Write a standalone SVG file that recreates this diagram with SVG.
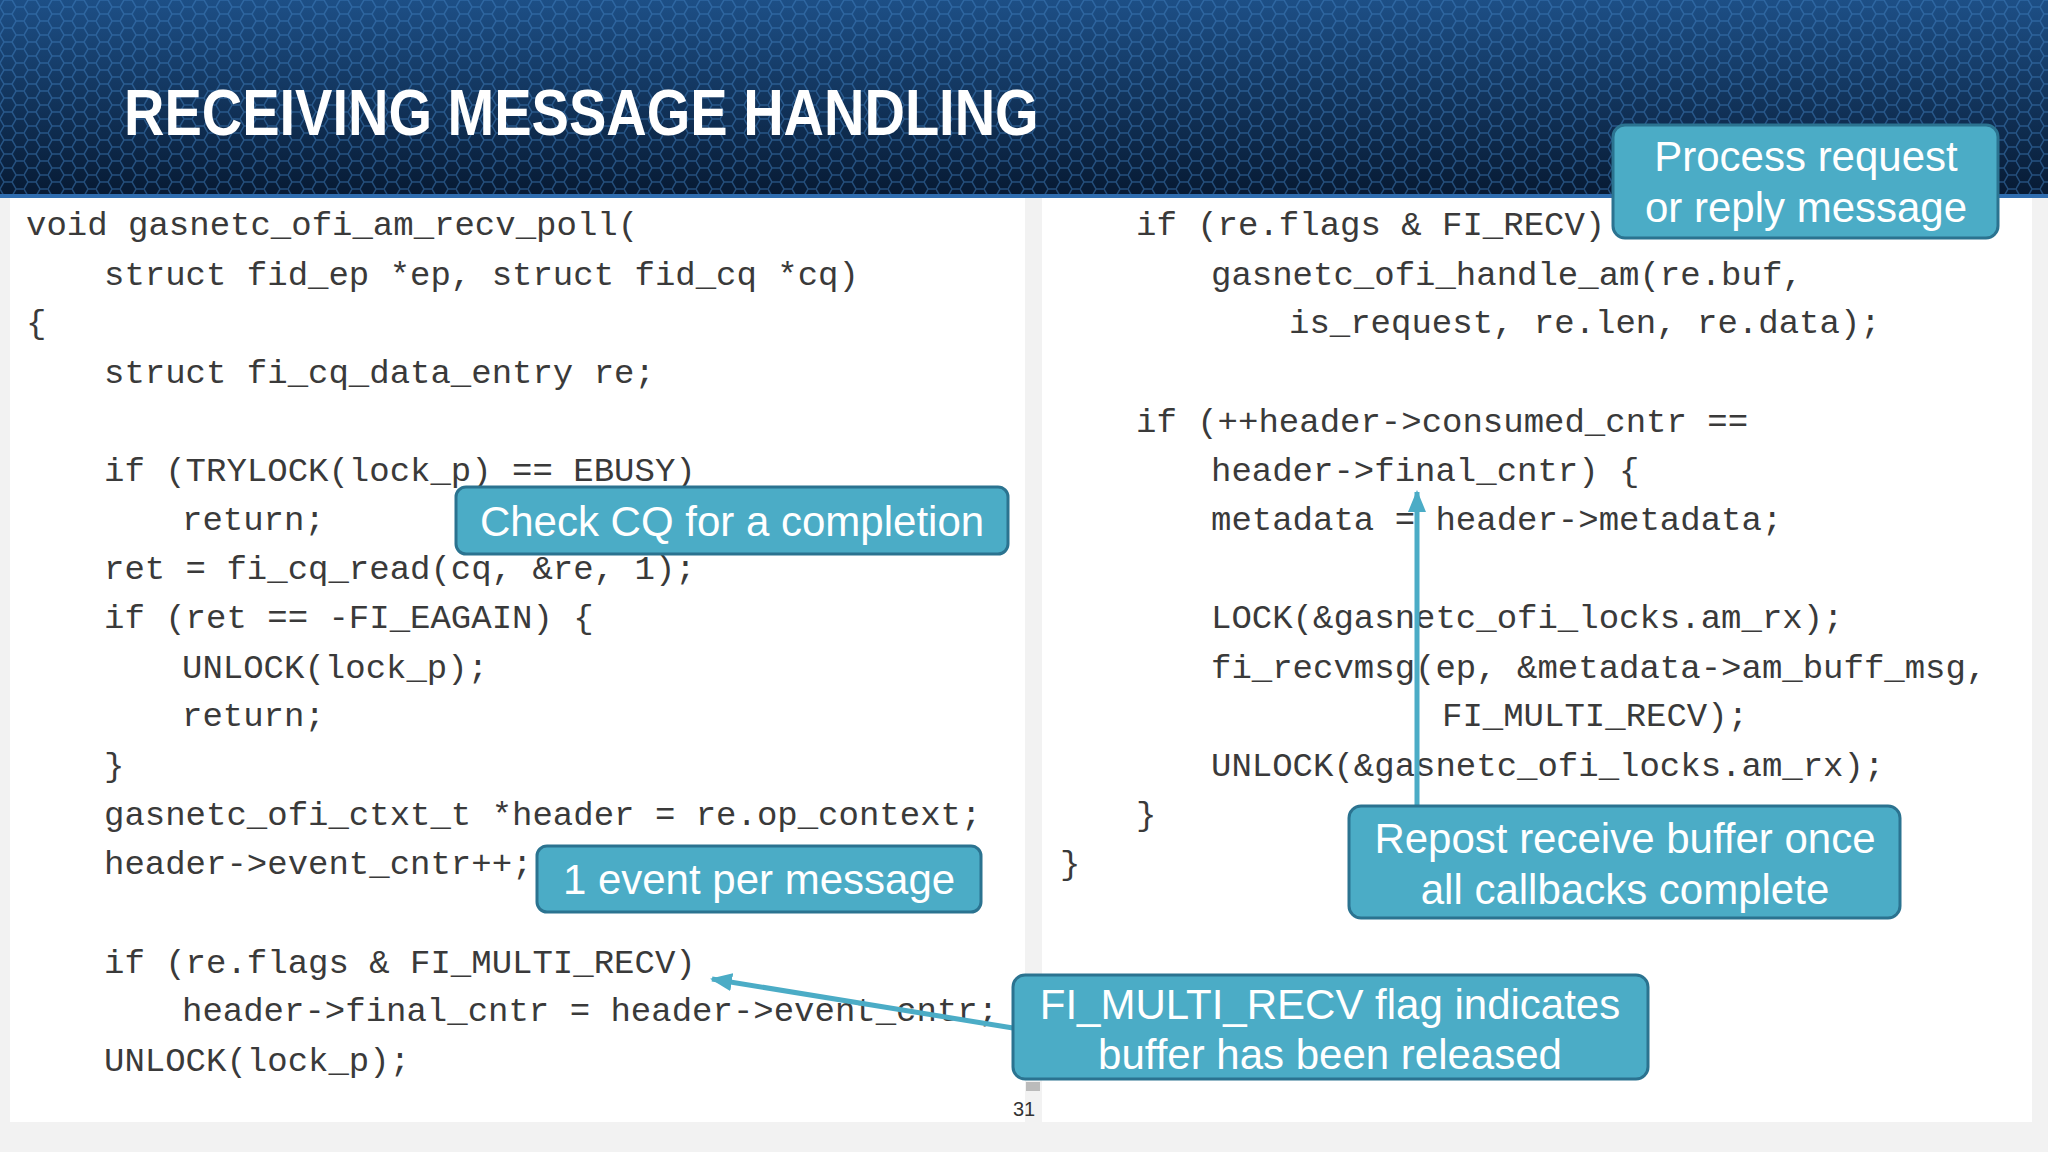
<svg xmlns="http://www.w3.org/2000/svg" width="2048" height="1152" viewBox="0 0 2048 1152">
<defs>
<linearGradient id="hg" x1="0" y1="0" x2="0" y2="1"><stop offset="0" stop-color="#1d4f86"/><stop offset="1" stop-color="#071a33"/></linearGradient>
<pattern id="hex" width="24" height="14" patternUnits="userSpaceOnUse"><path d="M0 7 L4 0 L12 0 L16 7 L12 14 L4 14 Z M16 7 L24 7" fill="none" stroke="#3f7fc0" stroke-opacity="0.5" stroke-width="1.5"/></pattern>
<marker id="ah" markerWidth="22" markerHeight="18" refX="20" refY="9" orient="auto" markerUnits="userSpaceOnUse" viewBox="0 0 22 18"><path d="M0 0 L22 9 L0 18 Z" fill="#4bacc6"/></marker>
<style>
.code{font-family:"Liberation Mono",monospace;font-size:34px;fill:#3a3a3a;white-space:pre}
.cb{fill:#4bacc6;stroke:#2b7390;stroke-width:3}
.ct{font-family:"Liberation Sans",Arial,sans-serif;font-size:42px;fill:#fff;text-anchor:middle}
.con{stroke:#4bacc6;stroke-width:5;fill:none}
</style>
</defs>
<rect width="2048" height="1152" fill="#f2f2f2"/>
<rect width="2048" height="196" fill="url(#hg)"/>
<rect width="2048" height="196" fill="url(#hex)"/>
<rect y="194" width="2048" height="4" fill="#2f6db0"/>
<text x="124" y="135" font-family="Liberation Sans,Arial,sans-serif" font-size="64" font-weight="bold" fill="#fff" transform="translate(124 0) scale(0.875 1) translate(-124 0)">RECEIVING MESSAGE HANDLING</text>
<rect x="10" y="198" width="1015" height="924" fill="#fff"/>
<rect x="1042" y="198" width="990" height="924" fill="#fff"/>
<g id="leftcode" class="code">
<text x="26" y="235">void gasnetc_ofi_am_recv_poll(</text>
<text x="104" y="285">struct fid_ep *ep, struct fid_cq *cq)</text>
<text x="26" y="333">{</text>
<text x="104" y="383">struct fi_cq_data_entry re;</text>
<text x="104" y="481">if (TRYLOCK(lock_p) == EBUSY)</text>
<text x="182" y="530">return;</text>
<text x="104" y="579">ret = fi_cq_read(cq, &amp;re, 1);</text>
<text x="104" y="628">if (ret == -FI_EAGAIN) {</text>
<text x="182" y="678">UNLOCK(lock_p);</text>
<text x="182" y="726">return;</text>
<text x="104" y="776">}</text>
<text x="104" y="825">gasnetc_ofi_ctxt_t *header = re.op_context;</text>
<text x="104" y="874">header-&gt;event_cntr++;</text>
<text x="104" y="973">if (re.flags &amp; FI_MULTI_RECV)</text>
<text x="182" y="1021">header-&gt;final_cntr = header-&gt;event_cntr;</text>
<text x="104" y="1071">UNLOCK(lock_p);</text>
</g>
<g id="rightcode" class="code">
<text x="1136" y="235">if (re.flags &amp; FI_RECV)</text>
<text x="1211" y="285">gasnetc_ofi_handle_am(re.buf,</text>
<text x="1289" y="333">is_request, re.len, re.data);</text>
<text x="1136" y="432">if (++header-&gt;consumed_cntr ==</text>
<text x="1211" y="481">header-&gt;final_cntr) {</text>
<text x="1211" y="530">metadata = header-&gt;metadata;</text>
<text x="1211" y="628">LOCK(&amp;gasnetc_ofi_locks.am_rx);</text>
<text x="1211" y="678">fi_recvmsg(ep, &amp;metadata-&gt;am_buff_msg,</text>
<text x="1442" y="726">FI_MULTI_RECV);</text>
<text x="1211" y="776">UNLOCK(&amp;gasnetc_ofi_locks.am_rx);</text>
<text x="1136" y="825">}</text>
<text x="1060" y="874">}</text>
</g>
<g id="connectors">
<path class="con" d="M1013 1028 L712 979" marker-end="url(#ah)"/>
<path class="con" d="M1417 806 L1417 492" marker-end="url(#ah)"/>
</g>
<g id="n1"><rect class="cb" x="1613" y="125" width="385" height="113" rx="12"/><text class="ct" x="1806" y="171">Process request</text><text class="ct" x="1806" y="222">or reply message</text></g>
<g id="n2"><rect class="cb" x="456" y="487" width="552" height="67" rx="10"/><text class="ct" x="732" y="536">Check CQ for a completion</text></g>
<g id="n3"><rect class="cb" x="537" y="846" width="444" height="66" rx="10"/><text class="ct" x="759" y="894">1 event per message</text></g>
<g id="n4"><rect class="cb" x="1349" y="806" width="551" height="112" rx="12"/><text class="ct" x="1625" y="853">Repost receive buffer once</text><text class="ct" x="1625" y="904">all callbacks complete</text></g>
<g id="n5"><rect class="cb" x="1013" y="975" width="635" height="104" rx="12"/><text class="ct" x="1330" y="1019">FI_MULTI_RECV flag indicates</text><text class="ct" x="1330" y="1069">buffer has been released</text></g>
<rect x="1026" y="1082" width="14" height="9" fill="#bbb"/>
<text x="1024" y="1116" font-family="Liberation Sans,Arial,sans-serif" font-size="20" fill="#333" text-anchor="middle">31</text>
</svg>
